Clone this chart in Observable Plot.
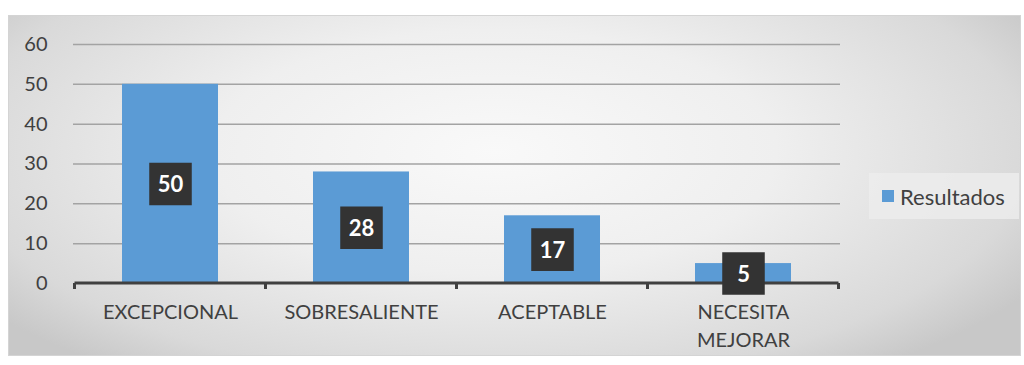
<!DOCTYPE html>
<html>
<head>
<meta charset="utf-8">
<script src="https://cdn.jsdelivr.net/npm/d3@7"></script>
<script src="https://cdn.jsdelivr.net/npm/@observablehq/plot@0.6"></script>
<style>
  html, body { margin: 0; padding: 0; background: #fff; }
  #wrap { position: relative; width: 1024px; height: 365px; overflow: hidden; }
  #bg { position: absolute; left: 8px; top: 15px; width: 1011px; height: 339px;
        border: 1px solid #d4d4d4;
        background: radial-gradient(ellipse 62% 80% at 48% 40%, #f9f9f9 0%, #efefef 45%, #d9d9d9 85%, #c8c8c8 100%); }
  #chart { position: absolute; left: 0; top: 0; }
  #legend { position: absolute; left: 869px; top: 173px; width: 150px; height: 46px;
            background: rgba(236,236,236,0.85); font-family: Lato, "Open Sans", sans-serif;
            font-size: 22px; color: #404040; display: flex; align-items: center; }
  #legend .sw { width: 12px; height: 12px; background: #5b9bd5; margin-left: 13px; margin-right: 6px; }
</style>
</head>
<body>
<div id="wrap">
  <div id="bg"></div>
  <div id="chart"></div>
  <div id="legend"><div class="sw"></div><span id="legtext"></span></div>
</div>
<script>
const categories = ["EXCEPCIONAL", "SOBRESALIENTE", "ACEPTABLE", "NECESITA MEJORAR"];
const values = [50, 28, 17, 5];
const yTicks = [0, 10, 20, 30, 40, 50, 60];
const seriesName = "Resultados";

const data = categories.map((c, i) => ({category: c, value: values[i]}));
document.getElementById("legtext").textContent = seriesName;

const boundaryTicks = (index, scales, values, dimensions) => {
  const x = scales.x, y = scales.y;
  const step = x.step(), bw = x.bandwidth();
  const centers = categories.map(c => x(c) + bw / 2);
  const bounds = [centers[0] - step / 2, ...centers.map(c => c + step / 2)];
  const g = d3.create("svg:g");
  const y0 = y(0);
  g.append("line")
    .attr("x1", bounds[0]).attr("x2", bounds[bounds.length - 1])
    .attr("y1", y0).attr("y2", y0)
    .attr("stroke", "#404040").attr("stroke-width", 3);
  g.selectAll("line.t").data(bounds).join("line")
    .attr("class", "t")
    .attr("x1", d => d).attr("x2", d => d)
    .attr("y1", y0).attr("y2", y0 + 6)
    .attr("stroke", "#404040").attr("stroke-width", 3);
  return g.node();
};

const chart = Plot.plot({
  width: 1024,
  height: 365,
  marginLeft: 73,
  marginRight: 184,
  marginTop: 44,
  marginBottom: 82,
  style: {background: "transparent", fontFamily: "Lato, 'Open Sans', sans-serif"},
  x: {domain: categories, paddingInner: 0.5, paddingOuter: 0.25, label: null},
  y: {domain: [0, 60], label: null},
  marks: [
    Plot.ruleY(yTicks.filter(d => d > 0), {stroke: "#a3a3a3", strokeWidth: 1.5}),
    Plot.barY(data, {x: "category", y: "value", fill: "#5b9bd5",
      style: "filter: drop-shadow(0px 0px 2px rgba(230,170,110,0.35))"}),
    boundaryTicks,
    Plot.axisY({ticks: yTicks, tickSize: 0, tickPadding: 26, fontSize: 20, color: "#404040", label: null}),
    Plot.axisX({tickSize: 0, tickPadding: 16, fontSize: 20, color: "#404040", label: null,
      tickFormat: d => d.replace(" ", "\n"), lineHeight: 1.4}),
    Plot.dot(data, {x: "category", y: d => d.value / 2, symbol: "square", r: 24, fill: "#333333", stroke: null,
      style: "filter: drop-shadow(2px 3px 2px rgba(0,0,0,0.45))"}),
    Plot.text(data, {x: "category", y: d => d.value / 2, text: d => String(d.value), fill: "white",
      fontSize: 22, fontWeight: "bold", dy: 1})
  ]
});
document.getElementById("chart").appendChild(chart);
</script>
</body>
</html>
